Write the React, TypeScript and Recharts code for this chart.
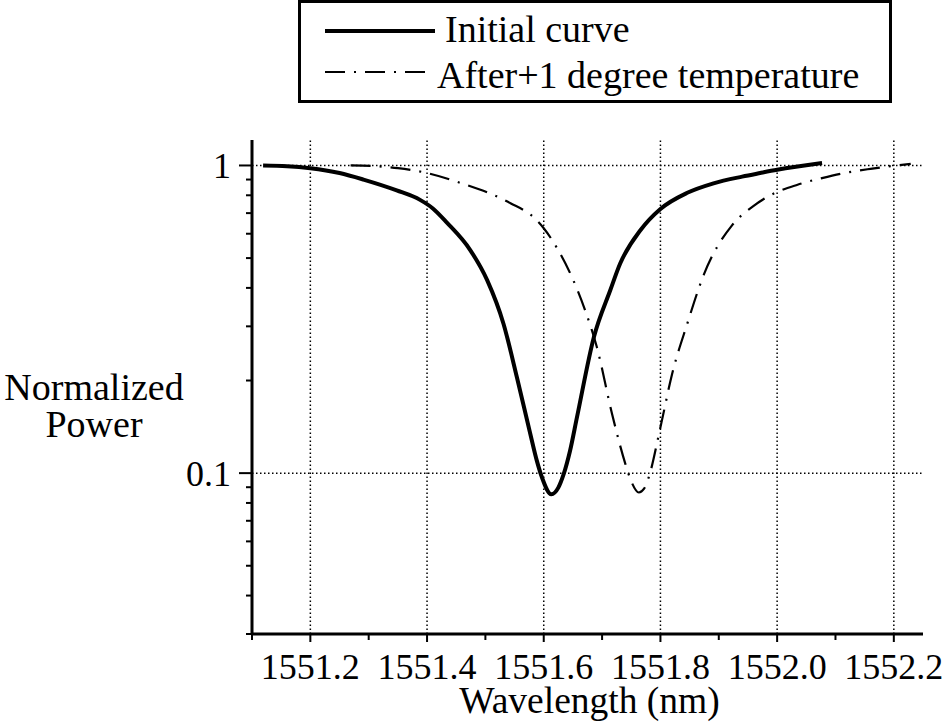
import React from "react";
import { LineChart, Line, XAxis, YAxis, ReferenceLine, Legend } from "recharts";

const FONT = "'Liberation Serif', 'Times New Roman', Times, serif";

// Initial curve (wavelength nm, normalized power)
const initialWl = [
  1551.119, 1551.16, 1551.2, 1551.25, 1551.291, 1551.348, 1551.388, 1551.41, 1551.434, 1551.474,
  1551.503, 1551.531, 1551.554, 1551.577, 1551.588, 1551.597, 1551.613, 1551.625,
  1551.634, 1551.645, 1551.657, 1551.686, 1551.714, 1551.731, 1551.766, 1551.8,
  1551.846, 1551.891, 1551.94, 1551.971, 1552.0, 1552.077,
];
const initialPower = [
  1.0, 0.995, 0.98, 0.945, 0.9, 0.83, 0.773, 0.725, 0.652, 0.531,
  0.424, 0.306, 0.205, 0.134, 0.11, 0.0968, 0.0854, 0.0897,
  0.099, 0.118, 0.152, 0.277, 0.393, 0.48, 0.617, 0.722,
  0.815, 0.875, 0.92, 0.945, 0.968, 1.018,
];

// After +1 degree temperature
const afterWl = [
  1551.269, 1551.31, 1551.35, 1551.4, 1551.463, 1551.505, 1551.543, 1551.585, 1551.6, 1551.623,
  1551.648, 1551.671, 1551.691, 1551.717, 1551.74, 1551.75, 1551.763, 1551.772, 1551.78,
  1551.8, 1551.82, 1551.846, 1551.874, 1551.923, 1551.958, 1551.995, 1552.035,
  1552.077, 1552.109, 1552.16, 1552.229,
];
const afterPower = [
  1.0, 0.995, 0.98, 0.945, 0.87, 0.815, 0.754, 0.672, 0.625, 0.538,
  0.435, 0.338, 0.257, 0.156, 0.107, 0.094, 0.0865, 0.089, 0.097,
  0.141, 0.21, 0.306, 0.44, 0.64, 0.735, 0.812, 0.866,
  0.91, 0.94, 0.975, 1.012,
];

const xTicks = [
  1551.1, 1551.2, 1551.3, 1551.4, 1551.5, 1551.6, 1551.7, 1551.8, 1551.9, 1552.0, 1552.1, 1552.2,
];
const xGrid = [1551.2, 1551.4, 1551.6, 1551.8, 1552.0, 1552.2];
const yTicks = [
  0.03, 0.04, 0.05, 0.06, 0.07, 0.08, 0.09, 0.1, 0.2, 0.3, 0.4, 0.5, 0.6, 0.7, 0.8, 0.9, 1,
];
const yMajor = [0.1, 1];
const yGrid = [0.1, 1];

const seriesNames = ["Initial curve", "After+1 degree temperature"];

const initialData = initialWl.map((w, i) => ({ w, p: initialPower[i] }));
const afterData = afterWl.map((w, i) => ({ w, p: afterPower[i] }));

const DASHDOT = "20 9 2 9";

const XTick = (props: any) => {
  const { x, y, payload } = props;
  const v = payload.value as number;
  const major = Math.round(v * 10) % 2 === 0;
  return (
    <g>
      <line x1={x} x2={x} y1={y} y2={y + (major ? 8 : 6)} stroke="#000" strokeWidth={2} />
      {major && (
        <text x={x} y={y + 45} textAnchor="middle" fontFamily={FONT} fontSize={36} fill="#000">
          {v.toFixed(1)}
        </text>
      )}
    </g>
  );
};

const YTick = (props: any) => {
  const { x, y, payload } = props;
  const v = payload.value as number;
  const major = yMajor.some((m) => Math.abs(m - v) < 1e-9);
  return (
    <g>
      <line x1={x - (major ? 13 : 6)} x2={x} y1={y} y2={y} stroke="#000" strokeWidth={2} />
      {major && (
        <text x={x - 21} y={y + 13} textAnchor="end" fontFamily={FONT} fontSize={36} fill="#000">
          {String(v)}
        </text>
      )}
    </g>
  );
};

const YTitle = (props: any) => {
  const vb = props.viewBox || { x: 0, y: 140 };
  const cx = vb.x + 94;
  return (
    <text textAnchor="middle" fontFamily={FONT} fontSize={38} fill="#000">
      <tspan x={cx} y={vb.y + 260}>Normalized</tspan>
      <tspan x={cx} y={vb.y + 297}>Power</tspan>
    </text>
  );
};

const XTitle = (props: any) => {
  const vb = props.viewBox || { x: 252, y: 634, width: 671 };
  return (
    <text
      x={vb.x + vb.width / 2 + 2}
      y={vb.y + 79}
      textAnchor="middle"
      fontFamily={FONT}
      fontSize={37.5}
      fill="#000"
    >
      Wavelength (nm)
    </text>
  );
};

const LegendBox = () => (
  <svg width={596} height={104} style={{ display: "block" }}>
    <rect x={1.5} y={1.5} width={591} height={100} fill="#fff" stroke="#000" strokeWidth={3} />
    <line x1={27} x2={137} y1={31} y2={31} stroke="#000" strokeWidth={4} />
    <text x={147} y={42} fontFamily={FONT} fontSize={38} fill="#000">
      {seriesNames[0]}
    </text>
    <line x1={27} x2={133} y1={72} y2={72} stroke="#000" strokeWidth={2.2} strokeDasharray={DASHDOT} />
    <text x={139} y={88} fontFamily={FONT} fontSize={38} fill="#000">
      {seriesNames[1]}
    </text>
  </svg>
);

export default function App() {
  return (
    <div style={{ position: "absolute", left: 0, top: 0, background: "#fff" }}>
      <LineChart
        width={946}
        height={728}
        margin={{ top: 140, right: 23, bottom: 0, left: 0 }}
        style={{ background: "#fff" }}
      >
        <XAxis
          type="number"
          dataKey="w"
          domain={[1551.1, 1552.25]}
          ticks={xTicks}
          allowDataOverflow
          interval={0}
          tickLine={false}
          tickSize={0}
          tickMargin={0}
          tick={XTick}
          axisLine={{ stroke: "#000", strokeWidth: 3 }}
          height={94}
          label={{ content: XTitle }}
        />
        <YAxis
          type="number"
          dataKey="p"
          scale="log"
          domain={[0.03, 1.21]}
          ticks={yTicks}
          allowDataOverflow
          interval={0}
          tickLine={false}
          tickSize={0}
          tickMargin={0}
          tick={YTick}
          axisLine={{ stroke: "#000", strokeWidth: 3 }}
          width={252}
          label={{ content: YTitle }}
        />
        {xGrid.map((g) => (
          <ReferenceLine key={"x" + g} x={g} stroke="#000" strokeWidth={1.5} strokeDasharray="1.5 2.5" />
        ))}
        {yGrid.map((g) => (
          <ReferenceLine key={"y" + g} y={g} stroke="#000" strokeWidth={1.5} strokeDasharray="1.5 2.5" />
        ))}
        <Legend
          layout="horizontal"
          verticalAlign="middle"
          align="center"
          wrapperStyle={{ left: 298, top: 0, width: 596, height: 104 }}
          content={LegendBox}
        />
        <Line
          data={initialData}
          dataKey="p"
          name={seriesNames[0]}
          type="monotone"
          stroke="#000"
          strokeWidth={4}
          dot={false}
          activeDot={false}
          isAnimationActive={false}
        />
        <Line
          data={afterData}
          dataKey="p"
          name={seriesNames[1]}
          type="monotone"
          stroke="#000"
          strokeWidth={2.2}
          strokeDasharray={DASHDOT}
          dot={false}
          activeDot={false}
          isAnimationActive={false}
        />
      </LineChart>
    </div>
  );
}
